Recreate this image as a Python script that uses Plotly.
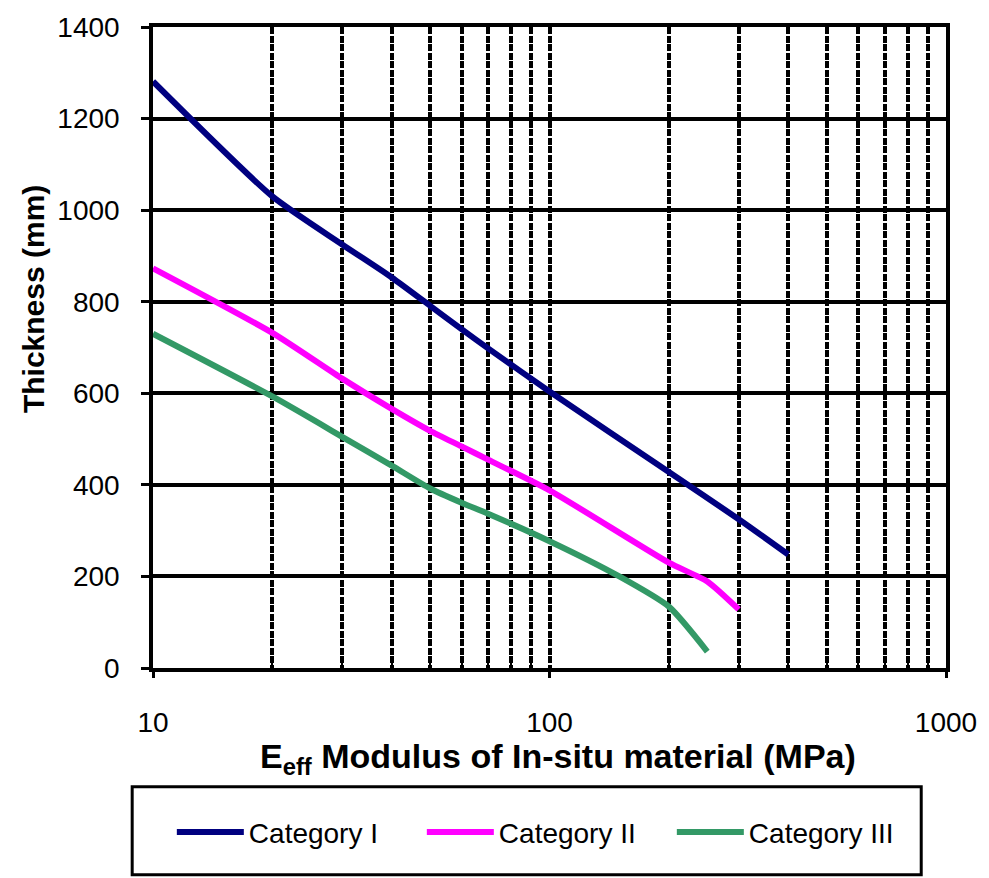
import plotly.graph_objects as go

# ---- data ----
modulus_cat1 = [10, 20, 30, 40, 50, 60, 70, 100, 200, 300, 400]
thickness_cat1 = [1281, 1030, 925, 853, 791, 740, 698, 604, 428, 325, 248]

modulus_cat2 = [10, 20, 30, 40, 50, 60, 70, 100, 200, 250, 300]
thickness_cat2 = [873, 732, 632, 566, 518, 484, 455, 388, 230, 189, 128]

modulus_cat3 = [10, 20, 30, 40, 50, 60, 70, 100, 150, 200, 250]
thickness_cat3 = [730, 593, 505, 442, 392, 361, 337, 277, 200, 134, 36]

series_names = ["Category I", "Category II", "Category III"]
series_colors = ["#000080", "#FF00FF", "#339966"]

x_major_ticks = [10, 100, 1000]
x_major_labels = ["10", "100", "1000"]
x_minor_ticks = [20, 30, 40, 50, 60, 70, 80, 90, 200, 300, 400, 500, 600, 700, 800, 900]
y_ticks = [0, 200, 400, 600, 800, 1000, 1200, 1400]

x_title = "<b>E<sub>eff</sub> Modulus of In-situ material (MPa)</b>"
y_title = "<b>Thickness (mm)</b>"

FONT = "Liberation Sans, Arial, sans-serif"

fig = go.Figure()
for xs, ys, name, color in zip(
    [modulus_cat1, modulus_cat2, modulus_cat3],
    [thickness_cat1, thickness_cat2, thickness_cat3],
    series_names, series_colors,
):
    fig.add_trace(go.Scatter(
        x=xs, y=ys, name=name, mode="lines",
        line=dict(color=color, width=6, shape="spline", smoothing=0.6),
    ))

grid_style = dict(gridcolor="black", gridwidth=4, griddash="7px,1.5px")

fig.update_layout(
    width=989, height=878, autosize=False,
    margin=dict(l=153, r=36, t=20, b=210),
    paper_bgcolor="white", plot_bgcolor="white",
    font=dict(family=FONT, color="black", size=28),
    showlegend=True,
    legend=dict(
        orientation="h", x=(172 - 153) / 800, xanchor="left",
        y=(668 - 834) / 648, yanchor="middle",
        entrywidth=168, entrywidthmode="pixels",
        font=dict(family=FONT, size=28, color="black"),
        bgcolor="rgba(0,0,0,0)", borderwidth=0,
        itemwidth=67,
    ),
    xaxis=dict(
        type="log", range=[1, 3],
        tickmode="array", tickvals=x_major_ticks, ticktext=x_major_labels,
        showgrid=True, **grid_style,
        showline=True, linecolor="black", linewidth=3.5, mirror=True,
        ticks="outside", ticklen=6, tickwidth=3, tickcolor="black",
        tickfont=dict(family=FONT, size=28, color="black"),
        ticklabelstandoff=21,
        zeroline=False,
        minor=dict(
            tickmode="array", tickvals=x_minor_ticks,
            showgrid=True, ticks="inside", ticklen=6, tickwidth=2, tickcolor="black",
            **grid_style,
        ),
    ),
    yaxis=dict(
        range=[0, 1400],
        tickmode="array", tickvals=y_ticks,
        showgrid=True, gridcolor="black", gridwidth=3.5,
        showline=True, linecolor="black", linewidth=3.5, mirror=True,
        ticks="outside", ticklen=8, tickwidth=3, tickcolor="black",
        tickfont=dict(family=FONT, size=28, color="black"),
        ticklabelstandoff=16,
        zeroline=False,
    ),
    annotations=[
        dict(text=x_title, xref="paper", yref="paper",
             x=(562 - 153) / 800, y=(668 - 759) / 648,
             xanchor="center", yanchor="middle", showarrow=False,
             font=dict(family=FONT, size=34, color="black")),
        dict(text=y_title, xref="paper", yref="paper",
             x=(32 - 153) / 800, y=(668 - 295) / 648, textangle=-90,
             xanchor="center", yanchor="middle", showarrow=False,
             font=dict(family=FONT, size=30, color="black")),
    ],
    shapes=[
        dict(type="rect", xref="paper", yref="paper",
             x0=(132 - 153) / 800, x1=(928 - 153) / 800,
             y0=(668 - 877) / 648, y1=(668 - 788) / 648,
             line=dict(color="black", width=3), fillcolor="rgba(0,0,0,0)"),
    ],
)

fig.write_html("out.html")
